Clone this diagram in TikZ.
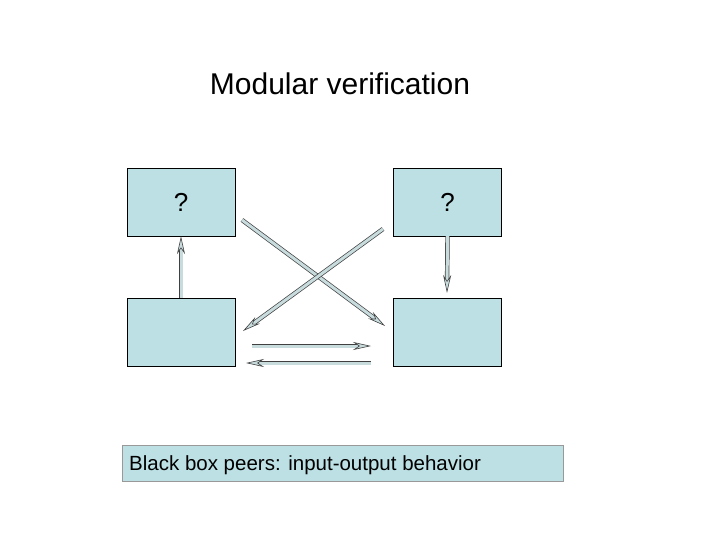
\documentclass[tikz,border=0pt]{standalone}
\usepackage{fontspec}
\setmainfont{Liberation Sans}
\usetikzlibrary{arrows.meta}
\definecolor{boxc}{RGB}{188,224,228}
\definecolor{arrc}{RGB}{200,220,222}
\begin{document}
\begin{tikzpicture}[x=1pt,y=-1pt,
  box/.style={draw=black,fill=boxc,minimum width=108pt,minimum height=68pt,inner sep=0pt,font=\fontsize{26}{28}\selectfont},
  barrow/.style={double=arrc,double distance=3pt,draw=black!75,line width=0.7pt,
    -{Stealth[length=18pt,width=8pt,fill=arrc,color=black!75,line width=0.6pt]}}]
\useasboundingbox (0,0) rectangle (720,540);
\node[font=\fontsize{30}{32}\selectfont] (title) at (340,84) {Modular verification};
\node[box] (tl) at (181,202) {?};
\node[box] (tr) at (447.5,202) {?};
\node[box] (bl) at (181,332) {};
\node[box] (br) at (447.5,332) {};
\node[draw=black!40,fill=boxc,minimum width=441pt,minimum height=36pt,inner sep=0pt] (lab) at (342.5,463) {};
\node[anchor=west,font=\fontsize{20.5}{22}\selectfont,inner sep=0pt] (labt) at (129,465) {Black box peers: input-output behavior};
\coordinate (d1s) at (242,220); \coordinate (d1e) at (385,326);
\coordinate (d2s) at (383,229); \coordinate (d2e) at (243,331);
\coordinate (h1s) at (252,346); \coordinate (h1e) at (371,346);
\coordinate (h2s) at (371,363); \coordinate (h2e) at (246,363);
\coordinate (rve) at (447,293);
\draw[barrow] (bl.north) -- (tl.south);
\draw[barrow] (tr.south) -- (rve);
\draw[barrow] (d1s) -- (d1e);
\draw[barrow] (d2s) -- (d2e);
\draw[barrow] (h1s) -- (h1e);
\draw[barrow] (h2s) -- (h2e);
\end{tikzpicture}
\end{document}
